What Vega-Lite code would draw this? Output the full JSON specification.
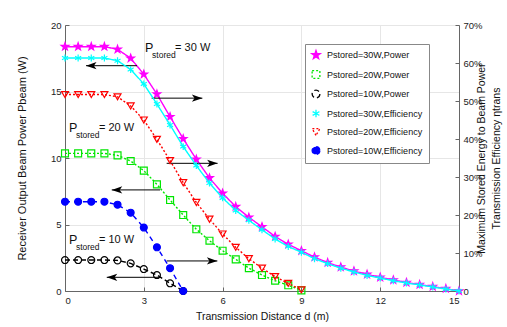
{
  "$schema": "https://vega.github.io/schema/vega-lite/v6.json",
  "width": 394,
  "height": 266,
  "autosize": {"type": "none"},
  "padding": {"left": 65, "top": 25, "right": 48, "bottom": 36},
  "background": "white",
  "config": {
    "font": "Liberation Sans",
    "view": {"stroke": "#c8c8c8", "strokeWidth": 1},
    "axis": {
      "labelFont": "Liberation Sans",
      "labelFontSize": 9.5,
      "labelColor": "#222",
      "titleFont": "Liberation Sans",
      "titleFontSize": 11,
      "titleFontWeight": "normal",
      "titleColor": "#111",
      "domainColor": "#666",
      "tickColor": "#666",
      "gridColor": "#e6e6e6",
      "tickSize": -4,
      "labelPadding": 8
    },
    "legend": {
      "labelFont": "Liberation Sans",
      "labelFontSize": 9,
      "labelColor": "#111"
    }
  },
  "datasets": {
    "curves": [
      {"d":0,"s":"Pstored=30W,Power","v":18.37},{"d":0.5,"s":"Pstored=30W,Power","v":18.37},{"d":1,"s":"Pstored=30W,Power","v":18.37},{"d":1.5,"s":"Pstored=30W,Power","v":18.37},{"d":2,"s":"Pstored=30W,Power","v":18.17},{"d":2.5,"s":"Pstored=30W,Power","v":17.5},{"d":3,"s":"Pstored=30W,Power","v":16.3},{"d":3.5,"s":"Pstored=30W,Power","v":14.8},{"d":4,"s":"Pstored=30W,Power","v":13.1},{"d":4.5,"s":"Pstored=30W,Power","v":11.45},{"d":5,"s":"Pstored=30W,Power","v":9.9},{"d":5.5,"s":"Pstored=30W,Power","v":8.5},{"d":6,"s":"Pstored=30W,Power","v":7.35},{"d":6.5,"s":"Pstored=30W,Power","v":6.34},{"d":7,"s":"Pstored=30W,Power","v":5.54},{"d":7.5,"s":"Pstored=30W,Power","v":4.83},{"d":8,"s":"Pstored=30W,Power","v":4.1},{"d":8.5,"s":"Pstored=30W,Power","v":3.51},{"d":9,"s":"Pstored=30W,Power","v":3.03},{"d":9.5,"s":"Pstored=30W,Power","v":2.55},{"d":10,"s":"Pstored=30W,Power","v":2.13},{"d":10.5,"s":"Pstored=30W,Power","v":1.8},{"d":11,"s":"Pstored=30W,Power","v":1.5},{"d":11.5,"s":"Pstored=30W,Power","v":1.25},{"d":12,"s":"Pstored=30W,Power","v":1.03},{"d":12.5,"s":"Pstored=30W,Power","v":0.83},{"d":13,"s":"Pstored=30W,Power","v":0.64},{"d":13.5,"s":"Pstored=30W,Power","v":0.48},{"d":14,"s":"Pstored=30W,Power","v":0.33},{"d":14.5,"s":"Pstored=30W,Power","v":0.18},{"d":15,"s":"Pstored=30W,Power","v":0.0},
      {"d":0,"s":"Pstored=20W,Power","v":10.35},{"d":0.5,"s":"Pstored=20W,Power","v":10.35},{"d":1,"s":"Pstored=20W,Power","v":10.35},{"d":1.5,"s":"Pstored=20W,Power","v":10.35},{"d":2,"s":"Pstored=20W,Power","v":10.2},{"d":2.5,"s":"Pstored=20W,Power","v":9.77},{"d":3,"s":"Pstored=20W,Power","v":9.05},{"d":3.5,"s":"Pstored=20W,Power","v":8.02},{"d":4,"s":"Pstored=20W,Power","v":6.84},{"d":4.5,"s":"Pstored=20W,Power","v":5.71},{"d":5,"s":"Pstored=20W,Power","v":4.64},{"d":5.5,"s":"Pstored=20W,Power","v":3.78},{"d":6,"s":"Pstored=20W,Power","v":3.03},{"d":6.5,"s":"Pstored=20W,Power","v":2.38},{"d":7,"s":"Pstored=20W,Power","v":1.72},{"d":7.5,"s":"Pstored=20W,Power","v":1.2},{"d":8,"s":"Pstored=20W,Power","v":0.77},{"d":8.5,"s":"Pstored=20W,Power","v":0.43},{"d":9,"s":"Pstored=20W,Power","v":0.05},
      {"d":0,"s":"Pstored=10W,Power","v":2.33},{"d":0.5,"s":"Pstored=10W,Power","v":2.33},{"d":1,"s":"Pstored=10W,Power","v":2.33},{"d":1.5,"s":"Pstored=10W,Power","v":2.33},{"d":2,"s":"Pstored=10W,Power","v":2.3},{"d":2.5,"s":"Pstored=10W,Power","v":2.08},{"d":3,"s":"Pstored=10W,Power","v":1.65},{"d":3.5,"s":"Pstored=10W,Power","v":1.2},{"d":4,"s":"Pstored=10W,Power","v":0.58},{"d":4.5,"s":"Pstored=10W,Power","v":0.0},
      {"d":0,"s":"Pstored=30W,Efficiency","e":0.613},{"d":0.5,"s":"Pstored=30W,Efficiency","e":0.613},{"d":1,"s":"Pstored=30W,Efficiency","e":0.613},{"d":1.5,"s":"Pstored=30W,Efficiency","e":0.613},{"d":2,"s":"Pstored=30W,Efficiency","e":0.606},{"d":2.5,"s":"Pstored=30W,Efficiency","e":0.583},{"d":3,"s":"Pstored=30W,Efficiency","e":0.545},{"d":3.5,"s":"Pstored=30W,Efficiency","e":0.492},{"d":4,"s":"Pstored=30W,Efficiency","e":0.437},{"d":4.5,"s":"Pstored=30W,Efficiency","e":0.38},{"d":5,"s":"Pstored=30W,Efficiency","e":0.33},{"d":5.5,"s":"Pstored=30W,Efficiency","e":0.284},{"d":6,"s":"Pstored=30W,Efficiency","e":0.245},{"d":6.5,"s":"Pstored=30W,Efficiency","e":0.212},{"d":7,"s":"Pstored=30W,Efficiency","e":0.186},{"d":7.5,"s":"Pstored=30W,Efficiency","e":0.161},{"d":8,"s":"Pstored=30W,Efficiency","e":0.137},{"d":8.5,"s":"Pstored=30W,Efficiency","e":0.117},{"d":9,"s":"Pstored=30W,Efficiency","e":0.102},{"d":9.5,"s":"Pstored=30W,Efficiency","e":0.085},{"d":10,"s":"Pstored=30W,Efficiency","e":0.072},{"d":10.5,"s":"Pstored=30W,Efficiency","e":0.06},{"d":11,"s":"Pstored=30W,Efficiency","e":0.05},{"d":11.5,"s":"Pstored=30W,Efficiency","e":0.041},{"d":12,"s":"Pstored=30W,Efficiency","e":0.034},{"d":12.5,"s":"Pstored=30W,Efficiency","e":0.027},{"d":13,"s":"Pstored=30W,Efficiency","e":0.021},{"d":13.5,"s":"Pstored=30W,Efficiency","e":0.016},{"d":14,"s":"Pstored=30W,Efficiency","e":0.0105},{"d":14.5,"s":"Pstored=30W,Efficiency","e":0.005},{"d":15,"s":"Pstored=30W,Efficiency","e":0.0},
      {"d":0,"s":"Pstored=20W,Efficiency","e":0.517},{"d":0.5,"s":"Pstored=20W,Efficiency","e":0.517},{"d":1,"s":"Pstored=20W,Efficiency","e":0.517},{"d":1.5,"s":"Pstored=20W,Efficiency","e":0.517},{"d":2,"s":"Pstored=20W,Efficiency","e":0.511},{"d":2.5,"s":"Pstored=20W,Efficiency","e":0.487},{"d":3,"s":"Pstored=20W,Efficiency","e":0.45},{"d":3.5,"s":"Pstored=20W,Efficiency","e":0.399},{"d":4,"s":"Pstored=20W,Efficiency","e":0.343},{"d":4.5,"s":"Pstored=20W,Efficiency","e":0.285},{"d":5,"s":"Pstored=20W,Efficiency","e":0.233},{"d":5.5,"s":"Pstored=20W,Efficiency","e":0.189},{"d":6,"s":"Pstored=20W,Efficiency","e":0.15},{"d":6.5,"s":"Pstored=20W,Efficiency","e":0.115},{"d":7,"s":"Pstored=20W,Efficiency","e":0.085},{"d":7.5,"s":"Pstored=20W,Efficiency","e":0.06},{"d":8,"s":"Pstored=20W,Efficiency","e":0.038},{"d":8.5,"s":"Pstored=20W,Efficiency","e":0.02},{"d":9,"s":"Pstored=20W,Efficiency","e":0.003},
      {"d":0,"s":"Pstored=10W,Efficiency","e":0.235},{"d":0.5,"s":"Pstored=10W,Efficiency","e":0.235},{"d":1,"s":"Pstored=10W,Efficiency","e":0.235},{"d":1.5,"s":"Pstored=10W,Efficiency","e":0.235},{"d":2,"s":"Pstored=10W,Efficiency","e":0.227},{"d":2.5,"s":"Pstored=10W,Efficiency","e":0.206},{"d":3,"s":"Pstored=10W,Efficiency","e":0.167},{"d":3.5,"s":"Pstored=10W,Efficiency","e":0.115},{"d":4,"s":"Pstored=10W,Efficiency","e":0.06},{"d":4.5,"s":"Pstored=10W,Efficiency","e":0.0}
    ],
    "arrows": [
      {"x1":0.8,"x2":2.74,"y":16.94,"dir":"L"},
      {"x1":3.3,"x2":5.23,"y":14.5,"dir":"R"},
      {"x1":3.87,"x2":5.81,"y":9.6,"dir":"R"},
      {"x1":1.78,"x2":3.62,"y":7.6,"dir":"L"},
      {"x1":3.87,"x2":5.8,"y":2.26,"dir":"R"},
      {"x1":1.59,"x2":3.62,"y":1.03,"dir":"L"}
    ],
    "notes": [
      {"x":3.05,"y":18.25,"rest":"= 30 W"},
      {"x":0.15,"y":12.23,"rest":"= 20 W"},
      {"x":0.15,"y":3.83,"rest":"= 10 W"}
    ]
  },
  "encoding": {
    "x": {"field": "d", "type": "quantitative", "scale": {"domain": [0, 15], "nice": false},
      "axis": {"values": [0, 3, 6, 9, 12, 15], "title": "Transmission Distance d  (m)", "titleFontSize": 10.5, "titlePadding": 7}}
  },
  "layer": [
    {
      "encoding": {
        "y": {"type": "quantitative", "scale": {"domain": [0, 20], "nice": false},
          "axis": {"values": [0, 5, 10, 15, 20], "title": "Receiver Output Beam Power Pbeam  (W)", "titlePadding": 23}}
      },
      "layer": [
        {
          "data": {"name": "curves"},
          "transform": [{"filter": "isValid(datum.v)"}],
          "mark": {"type": "line", "strokeWidth": 1.4},
          "encoding": {
            "y": {"field": "v"},
            "detail": {"field": "s"},
            "stroke": {"field": "s", "type": "nominal",
              "scale": {"domain": ["Pstored=30W,Power", "Pstored=20W,Power", "Pstored=10W,Power", "Pstored=30W,Efficiency", "Pstored=20W,Efficiency", "Pstored=10W,Efficiency"],
                "range": ["#ff00ff", "#00e600", "#000000", "#00ffff", "#ff0000", "#0000ff"]},
              "legend": {"title": null, "orient": "none", "legendX": 240, "legendY": 19, "fillColor": "white", "strokeColor": "#888", "padding": 6, "rowPadding": 5.5, "symbolSize": 60, "symbolStrokeWidth": 1.3, "labelOffset": 6}},
            "strokeDash": {"field": "s", "type": "nominal",
              "scale": {"domain": ["Pstored=30W,Power", "Pstored=20W,Power", "Pstored=10W,Power", "Pstored=30W,Efficiency", "Pstored=20W,Efficiency", "Pstored=10W,Efficiency"],
                "range": [[1, 0], [2, 2], [5, 3], [1, 0], [2, 2], [5, 4]]}}
          }
        },
        {
          "data": {"name": "curves"},
          "transform": [{"filter": "isValid(datum.v)"}],
          "mark": {"type": "point", "strokeWidth": 1.2, "opacity": 1},
          "encoding": {
            "y": {"field": "v"},
            "stroke": {"field": "s", "type": "nominal"},
            "fill": {"field": "s", "type": "nominal",
              "scale": {"domain": ["Pstored=30W,Power", "Pstored=20W,Power", "Pstored=10W,Power", "Pstored=30W,Efficiency", "Pstored=20W,Efficiency", "Pstored=10W,Efficiency"],
                "range": ["#ff00ff", "transparent", "transparent", "transparent", "transparent", "#0000ff"]}},
            "shape": {"field": "s", "type": "nominal",
              "scale": {"domain": ["Pstored=30W,Power", "Pstored=20W,Power", "Pstored=10W,Power", "Pstored=30W,Efficiency", "Pstored=20W,Efficiency", "Pstored=10W,Efficiency"],
                "range": ["M0,-1.15L0.27,-0.37L1.1,-0.36L0.44,0.14L0.68,0.93L0,0.46L-0.68,0.93L-0.44,0.14L-1.1,-0.36L-0.27,-0.37Z", "square", "circle", "M0,-1L0,1M-0.87,-0.5L0.87,0.5M-0.87,0.5L0.87,-0.5", "triangle-down", "circle"]}},
            "size": {"value": 48}
          }
        },
        {
          "data": {"name": "arrows"},
          "mark": {"type": "rule", "color": "black", "strokeWidth": 1},
          "encoding": {"x": {"field": "x1", "type": "quantitative"}, "x2": {"field": "x2"}, "y": {"field": "y"}}
        },
        {
          "data": {"name": "arrows"},
          "transform": [{"filter": "datum.dir == 'L'"}],
          "mark": {"type": "point", "shape": "M0,0L2,-0.7L1.5,0L2,0.7Z", "filled": true, "color": "black", "size": 110, "opacity": 1},
          "encoding": {"x": {"field": "x1", "type": "quantitative"}, "y": {"field": "y"}}
        },
        {
          "data": {"name": "arrows"},
          "transform": [{"filter": "datum.dir == 'R'"}],
          "mark": {"type": "point", "shape": "M0,0L-2,-0.7L-1.5,0L-2,0.7Z", "filled": true, "color": "black", "size": 110, "opacity": 1},
          "encoding": {"x": {"field": "x2", "type": "quantitative"}, "y": {"field": "y"}}
        },
        {
          "data": {"name": "notes"},
          "mark": {"type": "text", "text": "P", "align": "left", "baseline": "middle", "fontSize": 12.5, "color": "#111"},
          "encoding": {"x": {"field": "x", "type": "quantitative"}, "y": {"field": "y"}}
        },
        {
          "data": {"name": "notes"},
          "mark": {"type": "text", "text": "stored", "align": "left", "baseline": "middle", "fontSize": 8.5, "color": "#111", "dx": 7, "dy": 7},
          "encoding": {"x": {"field": "x", "type": "quantitative"}, "y": {"field": "y"}}
        },
        {
          "data": {"name": "notes"},
          "mark": {"type": "text", "align": "left", "baseline": "middle", "fontSize": 11, "color": "#111", "dx": 30},
          "encoding": {"x": {"field": "x", "type": "quantitative"}, "y": {"field": "y"}, "text": {"field": "rest"}}
        }
      ]
    },
    {
      "data": {"name": "curves"},
      "transform": [{"filter": "isValid(datum.e)"}],
      "encoding": {
        "y": {"field": "e", "type": "quantitative", "scale": {"domain": [0, 0.7], "nice": false},
          "axis": {"orient": "right", "values": [0, 0.1, 0.2, 0.3, 0.4, 0.5, 0.6, 0.7], "labelExpr": "datum.value == 0 ? '0' : format(datum.value, '.0%')", "grid": false,
            "title": ["Maximum Stored Energy to Beam Power", "Transmission Efficiency  ηtrans"], "titleAngle": -90, "titlePadding": -11, "titleFontSize": 10.5, "titleLineHeight": 15}}
      },
      "layer": [
        {
          "mark": {"type": "line", "strokeWidth": 1.4},
          "encoding": {
            "detail": {"field": "s"},
            "stroke": {"field": "s", "type": "nominal"},
            "strokeDash": {"field": "s", "type": "nominal"}
          }
        },
        {
          "mark": {"type": "point", "strokeWidth": 1.2, "opacity": 1},
          "encoding": {
            "stroke": {"field": "s", "type": "nominal"},
            "fill": {"field": "s", "type": "nominal"},
            "shape": {"field": "s", "type": "nominal"},
            "size": {"value": 48}
          }
        }
      ]
    }
  ],
  "resolve": {"scale": {"y": "independent"}}
}
